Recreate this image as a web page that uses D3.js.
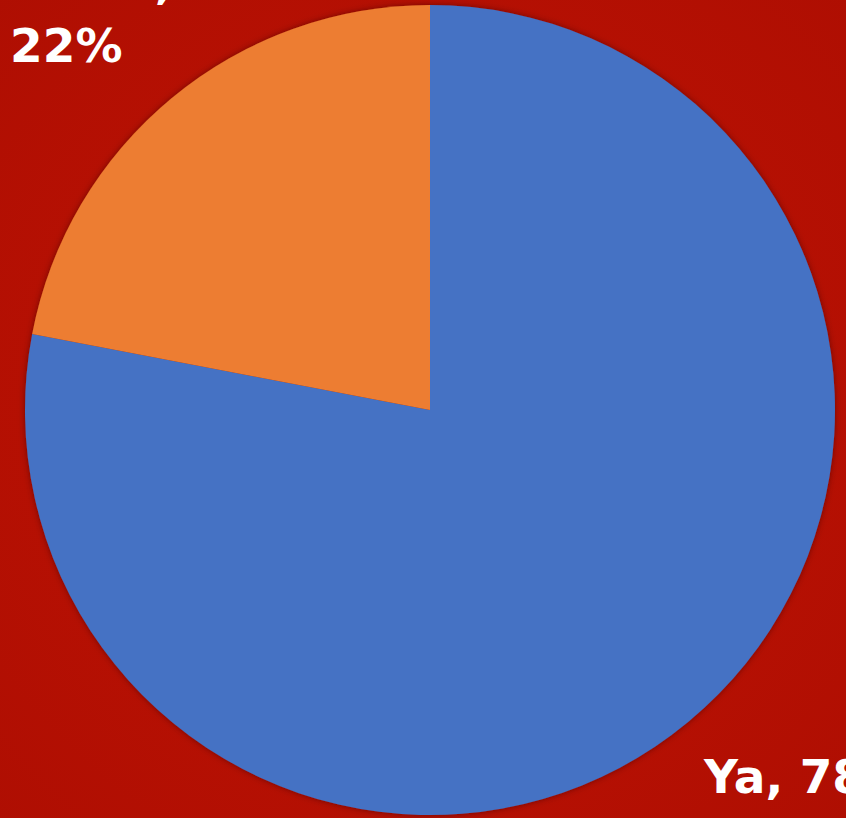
<!DOCTYPE html>
<html><head><meta charset="utf-8">
<script src="https://cdn.jsdelivr.net/npm/d3@7"></script>
<style>html,body{margin:0;padding:0;background:#b30f02;overflow:hidden}</style>
</head><body>
<script>
const categories = ["Ya", "Tidak"];
const values = [78, 22];
const colors = ["#4472c4", "#ed7d31"];

const W = 846, H = 818;
const svg = d3.select("body").append("svg").attr("width", W).attr("height", H);

const defs = svg.append("defs");
const rg = defs.append("radialGradient").attr("id","bg").attr("cx","50%").attr("cy","50%").attr("r","75%");
rg.append("stop").attr("offset","0%").attr("stop-color","#c11304");
rg.append("stop").attr("offset","100%").attr("stop-color","#ae0e02");
const f = defs.append("filter").attr("id","sh").attr("x","-10%").attr("y","-10%").attr("width","120%").attr("height","120%");
f.append("feDropShadow").attr("dx",0).attr("dy",0).attr("stdDeviation",3).attr("flood-color","#400000").attr("flood-opacity",0.6);

svg.append("rect").attr("width",W).attr("height",H).attr("fill","url(#bg)");

const cx = 430, cy = 410, r = 405;
const pie = d3.pie().sort(null).value(d => d);
const arc = d3.arc().innerRadius(0).outerRadius(r);
const g = svg.append("g").attr("transform",`translate(${cx},${cy})`).attr("filter","url(#sh)");
g.selectAll("path").data(pie(values)).join("path")
  .attr("d", arc).attr("fill",(d,i)=>colors[i]);

const lab = svg.append("g").attr("fill","#ffffff")
  .attr("font-family","'DejaVu Sans', sans-serif").attr("font-weight",700).attr("font-size",47);
// Tidak label (two lines, top-left)
const t1 = lab.append("text").attr("x",10).attr("y",62);
t1.append("tspan").attr("x",10).attr("dy",-64).text(categories[1] + ",");
t1.append("tspan").attr("x",10).attr("dy",64).text(values[1] + "%");
// Ya label (bottom-right)
lab.append("text").attr("x",704).attr("y",793).text(categories[0] + ", " + values[0] + "%");
</script>
</body></html>
